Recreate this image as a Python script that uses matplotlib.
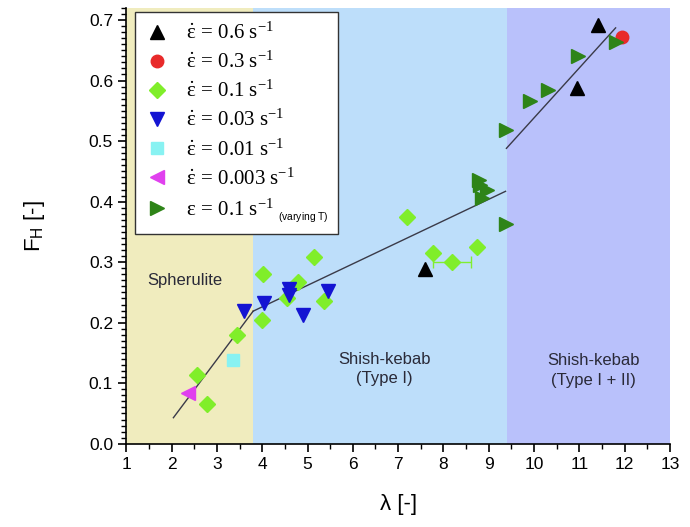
import matplotlib
matplotlib.use("Agg")
import matplotlib.pyplot as plt
from matplotlib.ticker import MultipleLocator

plt.rcParams['font.family'] = ['Liberation Sans', 'DejaVu Sans']
plt.rcParams['mathtext.fontset'] = 'custom'
plt.rcParams['mathtext.rm'] = 'Liberation Serif'
plt.rcParams['mathtext.it'] = 'Liberation Serif:italic'
plt.rcParams['mathtext.bf'] = 'Liberation Serif:bold'
plt.rcParams['mathtext.sf'] = 'Liberation Sans'

# ---- data ----
x_06 = [7.6, 10.95, 11.42]
y_06 = [0.288, 0.588, 0.692]

x_03 = [11.95]
y_03 = [0.672]

x_01 = [2.56, 2.78, 3.44, 4.02, 4.00, 4.55, 4.80, 5.14, 5.36, 7.20, 7.76, 8.18, 8.73]
y_01 = [0.113, 0.066, 0.179, 0.280, 0.205, 0.240, 0.267, 0.308, 0.235, 0.374, 0.315, 0.300, 0.325]

err_x = [8.18]
err_y = [0.300]
err_lo = [0.42]
err_hi = [0.42]

x_003 = [3.60, 4.04, 4.59, 4.59, 4.90, 5.45]
y_003 = [0.220, 0.232, 0.255, 0.245, 0.212, 0.252]

x_001 = [3.36]
y_001 = [0.139]

x_0003 = [2.37]
y_0003 = [0.083]

x_T = [8.78, 8.80, 8.97, 8.86, 9.37, 9.37, 9.90, 10.30, 10.96, 11.80]
y_T = [0.435, 0.427, 0.419, 0.406, 0.363, 0.518, 0.566, 0.584, 0.641, 0.664]

fit1_x = [2.04, 3.80]
fit1_y = [0.043, 0.219]
fit2_x = [3.80, 9.37]
fit2_y = [0.219, 0.417]
fit3_x = [9.39, 11.80]
fit3_y = [0.488, 0.687]

region_edges = [1.0, 3.8, 9.4, 13.0]
region_colors = ['#f0ecbe', '#bddefa', '#b9c1fb']

rates = ['0.6', '0.3', '0.1', '0.03', '0.01', '0.003']
labels = [r'$\dot{\mathrm{\varepsilon}}\,=\,' + r + r'\ \mathrm{s}^{\mathrm{-1}}$' for r in rates]
labels.append(r'$\mathrm{\varepsilon}\,=\,0.1\ \mathrm{s}^{\mathrm{-1}}\ {}_{{}_{\mathsf{(varying\ T)}}}$')

fig = plt.figure(figsize=(6.9, 5.27), dpi=100)
ax = fig.add_axes([0.183, 0.158, 0.788, 0.827])

for i in range(3):
    ax.axvspan(region_edges[i], region_edges[i + 1], color=region_colors[i], lw=0, zorder=0)

lc = '#3a3a48'
ax.plot(fit1_x, fit1_y, color=lc, lw=1.0, zorder=2)
ax.plot(fit2_x, fit2_y, color=lc, lw=1.0, zorder=2)
ax.plot(fit3_x, fit3_y, color=lc, lw=1.0, zorder=2)

ax.errorbar(err_x, err_y, xerr=[err_lo, err_hi], fmt='none', ecolor='#80ee30',
            elinewidth=1.0, capsize=4, zorder=3)

h1, = ax.plot(x_06, y_06, '^', color='black', ms=9.5, ls='none', zorder=4)
h2, = ax.plot(x_03, y_03, 'o', color='#e82a2a', ms=9, ls='none', zorder=4)
h3, = ax.plot(x_01, y_01, 'D', color='#80ee2a', ms=8.5, ls='none', zorder=4)
h4, = ax.plot(x_003, y_003, 'v', color='#1414d2', ms=9.5, ls='none', zorder=4)
h5, = ax.plot(x_001, y_001, 's', color='#88f2f2', ms=8, ls='none', zorder=4)
h6, = ax.plot(x_0003, y_0003, '<', color='#e040ee', ms=9.5, ls='none', zorder=4)
h7, = ax.plot(x_T, y_T, '>', color='#2e8418', ms=9.5, ls='none', zorder=4)

ax.set_xlim(1, 13)
ax.set_ylim(0, 0.72)
ax.xaxis.set_major_locator(MultipleLocator(1))
ax.xaxis.set_minor_locator(MultipleLocator(0.5))
ax.yaxis.set_minor_locator(MultipleLocator(0.01))
ax.set_yticks([0.0, 0.1, 0.2, 0.3, 0.4, 0.5, 0.6, 0.7])
ax.set_yticklabels(['0.0', '0.1', '0.2', '0.3', '0.4', '0.5', '0.6', '0.7'])
ax.tick_params(axis='both', which='major', direction='out', length=6, width=1.2, labelsize=12.5)
ax.tick_params(axis='both', which='minor', direction='out', length=3.5, width=1.0)
ax.spines['top'].set_visible(False)
ax.spines['right'].set_visible(False)
ax.spines['left'].set_linewidth(1.2)
ax.spines['bottom'].set_linewidth(1.2)

ax.set_xlabel('λ [-]', fontsize=16, labelpad=16)
ax.set_ylabel(r'F$_{\mathsf{H}}$ [-]', fontsize=16, labelpad=30)

tc = '#2a2a38'
ax.text(2.29, 0.27, 'Spherulite', fontsize=12, ha='center', va='center', color=tc, zorder=3)
ax.text(6.69, 0.123, 'Shish-kebab\n(Type I)', fontsize=12, ha='center', va='center',
        color=tc, linespacing=1.35, zorder=3)
ax.text(11.32, 0.121, 'Shish-kebab\n(Type I + II)', fontsize=12, ha='center', va='center',
        color=tc, linespacing=1.35, zorder=3)

leg = ax.legend([h1, h2, h3, h4, h5, h6, h7], labels, loc='upper left',
                bbox_to_anchor=(0.016, 0.99), fontsize=15, frameon=True, fancybox=False,
                edgecolor='#333333', framealpha=1.0, labelspacing=0.38, borderaxespad=0,
                handlelength=1.2, handletextpad=0.8, borderpad=0.45)
leg.get_frame().set_linewidth(1.0)
leg.set_zorder(5)

fig.savefig('out.png', dpi=100)
